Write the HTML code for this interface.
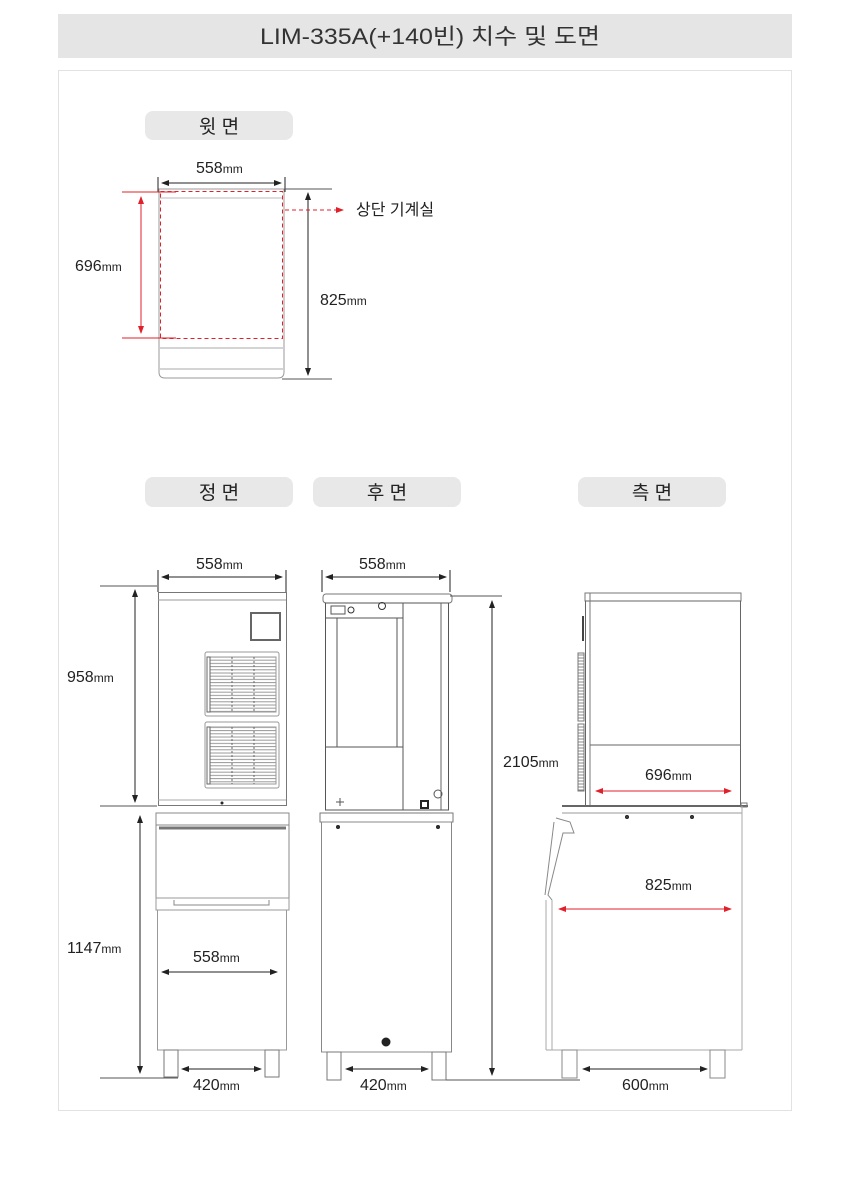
<!DOCTYPE html>
<html><head><meta charset="utf-8"><style>
html,body{margin:0;padding:0;background:#fff;}
svg{display:block;}
text{font-family:"Liberation Sans","Noto Sans CJK KR",sans-serif;fill:#222;}
.n{font-size:16px;}
.mm{font-size:12px;}
.lb{font-size:19px;}
</style></head><body>
<svg width="860" height="1184" viewBox="0 0 860 1184" xmlns="http://www.w3.org/2000/svg">
<defs>
<marker id="ab" markerWidth="8" markerHeight="8" refX="7" refY="4" orient="auto-start-reverse" markerUnits="userSpaceOnUse"><path d="M0,1 L8,4 L0,7 Z" fill="#222"/></marker>
<marker id="ar" markerWidth="8" markerHeight="8" refX="7" refY="4" orient="auto-start-reverse" markerUnits="userSpaceOnUse"><path d="M0,1 L8,4 L0,7 Z" fill="#e0202a"/></marker>
<pattern id="lv" x="0" y="0" width="10" height="3.2" patternUnits="userSpaceOnUse"><line x1="0" y1="1" x2="10" y2="1" stroke="#999" stroke-width="1"/></pattern>
<pattern id="sv" x="0" y="0" width="6" height="3" patternUnits="userSpaceOnUse"><line x1="0" y1="1" x2="6" y2="1" stroke="#888" stroke-width="1"/></pattern>
</defs>
<!-- title -->
<rect x="58" y="14" width="734" height="44" fill="#e5e5e5"/>
<text x="430" y="44" text-anchor="middle" style="font-size:22px;fill:#333" textLength="340" lengthAdjust="spacingAndGlyphs">LIM-335A(+140빈)  치수 및 도면</text>
<rect x="58.5" y="70.5" width="733" height="1040" fill="none" stroke="#e2e2e2"/>

<!-- pills -->
<rect x="145" y="111" width="148" height="29" rx="8" fill="#e8e8e8"/>
<text x="219" y="133" text-anchor="middle" class="lb">윗 면</text>
<rect x="145" y="477" width="148" height="30" rx="8" fill="#e8e8e8"/>
<text x="219" y="499" text-anchor="middle" class="lb">정 면</text>
<rect x="313" y="477" width="148" height="30" rx="8" fill="#e8e8e8"/>
<text x="387" y="499" text-anchor="middle" class="lb">후 면</text>
<rect x="578" y="477" width="148" height="30" rx="8" fill="#e8e8e8"/>
<text x="652" y="499" text-anchor="middle" class="lb">측 면</text>

<g stroke="#222" stroke-width="1" fill="none">
<!-- TOP VIEW -->
<line x1="158" y1="177" x2="158" y2="192"/><line x1="285" y1="177" x2="285" y2="192"/>
<line x1="162" y1="183" x2="281" y2="183" marker-start="url(#ab)" marker-end="url(#ab)"/>
<path d="M159,189 H284 V372 Q284,378 278,378 H165 Q159,378 159,372 Z" stroke="#999"/>
<line x1="160" y1="198" x2="283" y2="198" stroke="#bbb"/>
<line x1="160" y1="348" x2="283" y2="348" stroke="#aaa"/>
<line x1="160" y1="369" x2="283" y2="369" stroke="#aaa"/>
<line x1="285" y1="189" x2="332" y2="189" stroke="#555"/>
<line x1="282" y1="379" x2="332" y2="379" stroke="#555"/>
<line x1="308" y1="193" x2="308" y2="375" marker-start="url(#ab)" marker-end="url(#ab)"/>
</g>
<g stroke="#e0202a" fill="none" stroke-width="1">
<rect x="160.5" y="191.5" width="122" height="147" stroke-dasharray="4,3"/>
<line x1="122" y1="192" x2="176" y2="192"/>
<line x1="122" y1="338" x2="176" y2="338"/>
<line x1="141" y1="197" x2="141" y2="333" marker-start="url(#ar)" marker-end="url(#ar)"/>
<line x1="285" y1="210" x2="343" y2="210" stroke-dasharray="4,3" marker-end="url(#ar)"/>
</g>
<text x="196" y="173" class="n">558<tspan class="mm">mm</tspan></text>
<text x="75" y="271" class="n">696<tspan class="mm">mm</tspan></text>
<text x="320" y="305" class="n">825<tspan class="mm">mm</tspan></text>
<text x="356" y="215" style="font-size:16px">상단 기계실</text>

<g stroke="#222" stroke-width="1" fill="none">
<!-- FRONT VIEW -->
<line x1="158" y1="570" x2="158" y2="592"/><line x1="286" y1="570" x2="286" y2="592"/>
<line x1="162" y1="577" x2="282" y2="577" marker-start="url(#ab)" marker-end="url(#ab)"/>
<rect x="158.5" y="592.5" width="128" height="213" stroke="#777"/>
<line x1="158" y1="600" x2="286" y2="600" stroke="#999"/>
<rect x="251" y="613" width="29" height="27" stroke="#666" stroke-width="2"/>
<rect x="205" y="652" width="74" height="64" rx="2" stroke="#999"/>
<rect x="210" y="657" width="66" height="55" fill="url(#lv)" stroke="#999"/>
<rect x="207" y="657" width="3" height="55" stroke="#666"/>
<line x1="232" y1="657" x2="232" y2="712" stroke="#666" stroke-dasharray="2,2"/>
<line x1="254" y1="657" x2="254" y2="712" stroke="#666" stroke-dasharray="2,2"/>
<rect x="205" y="722" width="74" height="66" rx="2" stroke="#999"/>
<rect x="210" y="727" width="66" height="57" fill="url(#lv)" stroke="#999"/>
<rect x="207" y="727" width="3" height="57" stroke="#666"/>
<line x1="232" y1="727" x2="232" y2="784" stroke="#666" stroke-dasharray="2,2"/>
<line x1="254" y1="727" x2="254" y2="784" stroke="#666" stroke-dasharray="2,2"/>
<line x1="158" y1="800" x2="286" y2="800" stroke="#aaa"/>
<circle cx="222" cy="803" r="1" fill="#444"/>
<line x1="100" y1="586" x2="157" y2="586" stroke="#555"/>
<line x1="100" y1="806" x2="157" y2="806" stroke="#555"/>
<line x1="135" y1="590" x2="135" y2="802" marker-start="url(#ab)" marker-end="url(#ab)"/>
<!-- lower bin front -->
<rect x="156" y="813" width="133" height="12" stroke="#888"/>
<path d="M156,825 H289 V898 H156 Z" stroke="#888"/>
<line x1="159" y1="828" x2="286" y2="828" stroke="#777" stroke-width="3"/>
<rect x="156" y="898" width="133" height="12" stroke="#999"/>
<path d="M174,900 v5 h95 v-5" stroke="#888"/>
<rect x="157.5" y="910" width="129" height="140" stroke="#999"/>
<rect x="164" y="1050" width="14" height="27" stroke="#777"/>
<rect x="265" y="1050" width="14" height="27" stroke="#777"/>
<line x1="100" y1="1078" x2="178" y2="1078" stroke="#555"/>
<line x1="140" y1="816" x2="140" y2="1073" marker-start="url(#ab)" marker-end="url(#ab)"/>
<line x1="162" y1="972" x2="277" y2="972" marker-start="url(#ab)" marker-end="url(#ab)"/>
<line x1="182" y1="1069" x2="261" y2="1069" marker-start="url(#ab)" marker-end="url(#ab)"/>

<!-- REAR VIEW -->
<line x1="322" y1="570" x2="322" y2="592"/><line x1="450" y1="570" x2="450" y2="592"/>
<line x1="326" y1="577" x2="446" y2="577" marker-start="url(#ab)" marker-end="url(#ab)"/>
<rect x="323" y="594" width="129" height="9" rx="3" stroke="#777"/>
<rect x="325.5" y="603" width="123" height="207" stroke="#555"/>
<line x1="325" y1="618" x2="403" y2="618" stroke="#555"/>
<line x1="403" y1="603" x2="403" y2="810" stroke="#555"/>
<rect x="337" y="618" width="60" height="129" stroke="#555"/>
<line x1="325" y1="747" x2="403" y2="747" stroke="#555"/>
<line x1="441" y1="603" x2="441" y2="810" stroke="#666"/>
<rect x="331" y="606" width="14" height="8" stroke="#555"/>
<circle cx="351" cy="610" r="3" stroke="#333"/>
<circle cx="382" cy="606" r="3.5" stroke="#333"/>
<circle cx="438" cy="794" r="4" stroke="#555"/>
<rect x="421" y="801" width="7" height="7" stroke="#222" stroke-width="2"/>
<path d="M336,802 h8 M340,798 v8" stroke="#555"/>
<rect x="320" y="813" width="133" height="9" stroke="#777"/>
<rect x="321.5" y="822" width="130" height="230" stroke="#888"/>
<circle cx="338" cy="827" r="1.5" fill="#333"/><circle cx="438" cy="827" r="1.5" fill="#333"/>
<circle cx="386" cy="1042" r="4" fill="#222"/>
<rect x="327" y="1052" width="14" height="28" stroke="#777"/>
<rect x="432" y="1052" width="14" height="28" stroke="#777"/>
<line x1="346" y1="1069" x2="428" y2="1069" marker-start="url(#ab)" marker-end="url(#ab)"/>
<line x1="450" y1="596" x2="502" y2="596" stroke="#555"/>
<line x1="446" y1="1080" x2="580" y2="1080" stroke="#555"/>
<line x1="492" y1="601" x2="492" y2="1075" marker-start="url(#ab)" marker-end="url(#ab)"/>

<!-- SIDE VIEW -->
<rect x="585" y="593" width="156" height="8" stroke="#777"/>
<rect x="585.5" y="601" width="155" height="205" stroke="#666"/>
<line x1="590" y1="593" x2="590" y2="806" stroke="#777"/>
<line x1="590" y1="745" x2="740" y2="745" stroke="#666"/>
<rect x="578" y="653" width="6" height="68" stroke="#777" fill="url(#sv)"/>
<rect x="578" y="724" width="6" height="67" stroke="#777" fill="url(#sv)"/>
<line x1="583" y1="616" x2="583" y2="641" stroke="#444" stroke-width="2"/>
<line x1="562" y1="806" x2="748" y2="806" stroke="#666" stroke-width="2"/>
<rect x="741" y="803" width="6" height="4" stroke="#777"/>
<line x1="562" y1="813" x2="742" y2="813" stroke="#999"/>
<line x1="742" y1="806" x2="742" y2="1050" stroke="#aaa"/>
<path d="M556,818 L570,822 L574,833 L563,833 L548,895 L552,900" stroke="#888"/>
<path d="M554,822 L545,895" stroke="#888"/>
<line x1="546" y1="900" x2="546" y2="1050" stroke="#aaa"/>
<line x1="552" y1="900" x2="552" y2="1050" stroke="#aaa"/>
<line x1="546" y1="1050" x2="742" y2="1050" stroke="#aaa"/>
<circle cx="627" cy="817" r="1.5" fill="#444"/><circle cx="692" cy="817" r="1.5" fill="#444"/>
<rect x="562" y="1050" width="15" height="28" stroke="#888"/>
<rect x="710" y="1050" width="15" height="28" stroke="#888"/>
<line x1="583" y1="1069" x2="707" y2="1069" marker-start="url(#ab)" marker-end="url(#ab)"/>
</g>
<g stroke="#e0202a" fill="none">
<line x1="596" y1="791" x2="731" y2="791" marker-start="url(#ar)" marker-end="url(#ar)"/>
<line x1="559" y1="909" x2="731" y2="909" marker-start="url(#ar)" marker-end="url(#ar)"/>
</g>
<text x="196" y="569" class="n">558<tspan class="mm">mm</tspan></text>
<text x="359" y="569" class="n">558<tspan class="mm">mm</tspan></text>
<text x="67" y="682" class="n">958<tspan class="mm">mm</tspan></text>
<text x="67" y="953" class="n">1147<tspan class="mm">mm</tspan></text>
<text x="193" y="962" class="n">558<tspan class="mm">mm</tspan></text>
<text x="193" y="1090" class="n">420<tspan class="mm">mm</tspan></text>
<text x="360" y="1090" class="n">420<tspan class="mm">mm</tspan></text>
<text x="503" y="767" class="n">2105<tspan class="mm">mm</tspan></text>
<text x="645" y="780" class="n">696<tspan class="mm">mm</tspan></text>
<text x="645" y="890" class="n">825<tspan class="mm">mm</tspan></text>
<text x="622" y="1090" class="n">600<tspan class="mm">mm</tspan></text>
</svg>
</body></html>
